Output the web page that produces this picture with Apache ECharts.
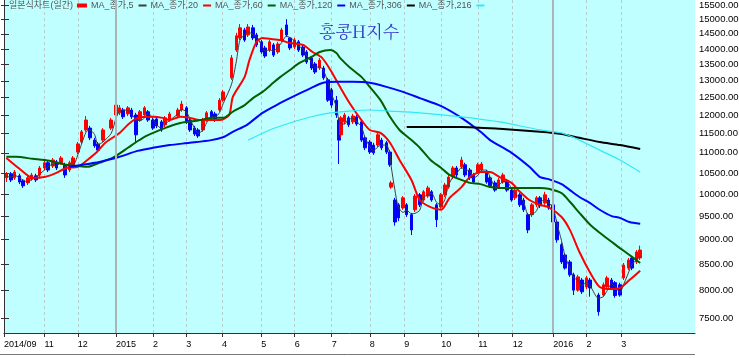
<!DOCTYPE html>
<html><head><meta charset="utf-8">
<script src="https://cdn.jsdelivr.net/npm/echarts@6/dist/echarts.min.js"></script>
<style>html,body{margin:0;padding:0;background:#fff}#c{width:739px;height:358px}</style>
</head><body><div id="c"></div>
<script>
// ---------- DATA ----------
const candleDates = [
"2014-10-02","2014-10-06","2014-10-09","2014-10-13","2014-10-16","2014-10-20","2014-10-23","2014-10-27","2014-10-30",
"2014-11-03","2014-11-06","2014-11-10","2014-11-13","2014-11-17","2014-11-20","2014-11-24","2014-11-27",
"2014-12-01","2014-12-04","2014-12-08","2014-12-11","2014-12-15","2014-12-18","2014-12-22","2014-12-29",
"2015-01-02","2015-01-05","2015-01-08","2015-01-12","2015-01-15","2015-01-19","2015-01-22","2015-01-26","2015-01-29",
"2015-02-02","2015-02-05","2015-02-09","2015-02-12","2015-02-16","2015-02-23","2015-02-26",
"2015-03-02","2015-03-05","2015-03-09","2015-03-12","2015-03-16","2015-03-19","2015-03-23","2015-03-26","2015-03-30",
"2015-04-02","2015-04-09","2015-04-13","2015-04-16","2015-04-20","2015-04-23","2015-04-27","2015-04-30",
"2015-05-04","2015-05-07","2015-05-11","2015-05-14","2015-05-18","2015-05-21","2015-05-25","2015-05-28",
"2015-06-01","2015-06-04","2015-06-08","2015-06-11","2015-06-15","2015-06-18","2015-06-22","2015-06-25","2015-06-29",
"2015-07-02","2015-07-06","2015-07-08","2015-07-10","2015-07-13","2015-07-16","2015-07-20","2015-07-23","2015-07-27","2015-07-30",
"2015-08-03","2015-08-06","2015-08-10","2015-08-13","2015-08-17","2015-08-20","2015-08-21","2015-08-24","2015-08-27","2015-08-31",
"2015-09-03","2015-09-07","2015-09-10","2015-09-14","2015-09-17","2015-09-21","2015-09-24","2015-09-28",
"2015-10-02","2015-10-05","2015-10-08","2015-10-12","2015-10-15","2015-10-19","2015-10-22","2015-10-26","2015-10-29",
"2015-11-02","2015-11-05","2015-11-09","2015-11-12","2015-11-16","2015-11-19","2015-11-23","2015-11-26","2015-11-30",
"2015-12-03","2015-12-07","2015-12-10","2015-12-14","2015-12-17","2015-12-21","2015-12-24","2015-12-28","2015-12-31",
"2016-01-04","2016-01-07","2016-01-11","2016-01-14","2016-01-18","2016-01-21","2016-01-25","2016-01-28",
"2016-02-01","2016-02-04","2016-02-11","2016-02-15","2016-02-18","2016-02-22","2016-02-25","2016-02-29",
"2016-03-03","2016-03-07","2016-03-10","2016-03-14","2016-03-17"];

const opens = [
10380,10480,10380,10430,10310,10260,10350,10430,10450,
10620,10750,10670,10770,10750,10700,10570,10700,
11020,11280,11600,11650,11330,11230,11330,11650,
12010,12070,12150,12040,12150,12010,11870,12010,12100,
11870,11900,11820,11740,11870,11980,12150,
12210,11870,11650,11600,11600,11870,12100,12040,12150,
12430,13090,13960,14360,14630,14460,14700,14460,
14230,14030,13960,14130,13900,14290,14800,14360,
14060,14230,14060,13900,13710,13520,13390,13390,13030,
12730,12430,11870,11470,11820,11930,11820,11960,11820,11390,
11280,11200,11200,11330,11260,11020,10160,9860,9750,9680,
9750,9530,9640,9980,9860,9950,10050,9750,
9700,9980,10160,10400,10620,10650,10700,10570,10450,
10520,10570,10520,10380,10260,10160,10280,10280,10090,
9910,9980,9860,9530,9530,9750,9910,9790,9860,
9750,9370,8890,8680,8540,8290,8000,8190,
8060,8190,7910,7910,8060,8190,8140,8100,
8230,8420,8620,8540,8620];

const closes = [
10480,10330,10520,10280,10190,10380,10450,10330,10620,
10750,10570,10820,10620,10870,10450,10750,10870,
11230,11550,11870,11390,11180,11070,11600,11870,
12290,12210,11960,12210,11960,11470,12100,12210,11870,
11650,11710,11600,11930,12040,12150,12320,
11820,11600,11490,11440,11870,12070,11930,11870,12430,
12670,13710,14430,14700,14290,14730,14360,14130,
13900,13770,14230,13800,14160,14630,14460,14030,
14290,13960,13800,13580,13390,13270,13640,13090,12430,
12290,12010,11330,11930,12010,11740,11980,11760,11330,11130,
11020,11000,11470,11130,11020,10700,10260,9370,9460,9910,
9530,9200,9950,9750,10050,10140,9860,9420,
9980,10210,10400,10620,10450,10820,10450,10380,10280,
10700,10720,10280,10190,10090,10330,10450,10090,9860,
10090,9750,9640,9200,9750,9910,9730,9980,9680,
9370,8990,8540,8420,8290,8000,8250,7970,
8230,8040,7610,8100,8230,8040,7900,7910,
8480,8580,8420,8740,8780];

const lows = [
10280,10280,10330,10230,10140,10210,10310,10280,10400,
10570,10520,10620,10570,10700,10380,10520,10650,
10970,11230,11550,11330,11130,11020,11280,11600,
11960,12010,11900,11980,11900,11280,11820,11960,11820,
11600,11650,11550,11680,11820,11930,12100,
11760,11550,11440,11390,11550,11820,11870,11820,12100,
12380,13030,13900,14290,14230,14390,14290,14060,
13840,13710,13900,13740,13840,14230,14390,13960,
14000,13900,13740,13520,13330,13210,13330,13030,12380,
12210,11930,10720,11390,11760,11680,11760,11710,11280,11070,
10970,10950,11150,11070,10970,10650,10120,9290,9390,9640,
9480,9090,9590,9700,9820,9910,9820,9260,
9660,9930,10120,10350,10400,10600,10400,10330,10240,
10480,10520,10240,10140,10050,10120,10240,10050,9820,
9860,9700,9590,9130,9480,9700,9680,9750,9640,
9330,8930,8500,8390,8250,7910,7970,7930,
8020,7880,7540,7880,8020,8000,7860,7880,
8190,8380,8380,8500,8580];

const highs = [
10520,10520,10570,10480,10350,10430,10500,10480,10670,
10800,10800,10870,10820,10920,10750,10800,10920,
11280,11600,11980,11710,11390,11280,11650,11930,
12380,12290,12210,12260,12210,12070,12150,12260,12150,
11930,11960,11870,11980,12100,12210,12410,
12260,11930,11710,11650,11930,12120,12150,12100,12490,
12730,13800,14530,14830,14700,14830,14800,14530,
14290,14100,14290,14190,14230,14700,15000,14390,
14360,14290,14130,13960,13770,13580,13710,13460,13090,
12790,12550,11930,11980,12070,11980,12040,12010,11870,11440,
11330,11260,11520,11390,11310,11070,10310,9910,9790,9950,
9790,9570,10000,10020,10090,10190,10090,9790,
10020,10260,10450,10670,10670,10900,10750,10620,10500,
10750,10770,10570,10430,10310,10380,10500,10330,10140,
10140,10020,9910,9570,9790,9950,9950,10050,9910,
9790,9420,8930,8720,8580,8330,8290,8230,
8270,8230,7950,8140,8270,8230,8170,8140,
8520,8620,8660,8780,8870];

const ma5 = [
10420,10400,10440,10380,10330,10280,10340,10390,10470,
10570,10650,10710,10670,10770,10650,10690,10690,
10950,11220,11550,11600,11480,11210,11280,11510,
11920,12120,12150,12130,12040,11880,11850,11930,12060,
11910,11740,11650,11750,11860,12040,12170,
12100,11910,11640,11510,11600,11790,11960,11950,12080,
12330,12900,13600,14280,14470,14570,14460,14410,
14130,13930,13970,13930,14060,14200,14420,14370,
14260,14090,14010,13780,13590,13410,13430,13330,12950,
12600,12240,11880,11760,11760,11890,11910,11830,11690,11400,
11160,11050,11160,11200,11200,10950,10660,10110,9700,9580,
9630,9550,9560,9630,9920,9980,10010,9810,
9750,9870,10200,10410,10490,10630,10570,10550,10370,
10450,10570,10570,10400,10190,10200,10290,10290,10130,
10010,9900,9830,9530,9530,9620,9800,9870,9800,
9680,9350,8970,8650,8420,8240,8180,8080,
8150,8080,7850,7880,7980,8120,8060,7960,
8100,8320,8490,8580,8650];

const ma20Dates = ["2014-10-02","2014-10-13","2014-10-24","2014-11-03","2014-11-13","2014-11-21","2014-12-01","2014-12-09","2014-12-17","2014-12-24","2015-01-05","2015-01-12","2015-01-20","2015-02-02","2015-02-10","2015-02-16","2015-02-25","2015-03-05","2015-03-13","2015-03-23","2015-03-30","2015-04-07","2015-04-10","2015-04-20","2015-04-24","2015-04-30","2015-05-05","2015-05-11","2015-05-20","2015-05-28","2015-06-08","2015-06-16","2015-06-24","2015-07-01","2015-07-09","2015-07-17","2015-07-27","2015-08-03","2015-08-12","2015-08-20","2015-08-28","2015-09-07","2015-09-14","2015-09-23","2015-10-02","2015-10-09","2015-10-19","2015-10-26","2015-11-04","2015-11-12","2015-11-20","2015-11-30","2015-12-07","2015-12-15","2015-12-24","2015-12-31","2016-01-11","2016-01-18","2016-01-26","2016-02-04","2016-02-12","2016-02-22","2016-02-29","2016-03-08","2016-03-17"];
const ma20 = [10870,10600,10380,10400,10500,10620,10650,10820,11020,11260,11520,11740,11930,11960,11930,11870,11960,11930,11870,11870,11870,12010,12520,13120,13640,14230,14360,14330,14290,14190,14130,13900,13710,13330,12820,12350,11870,11600,11520,11260,10820,10330,9860,9700,9640,9910,10160,10400,10520,10520,10400,10260,10050,9860,9750,9700,9480,9200,8740,8330,8060,8020,8040,8190,8370];

const ma60Dates = ["2014-10-02","2014-10-10","2014-10-24","2014-11-07","2014-11-21","2014-12-01","2014-12-09","2014-12-19","2014-12-30","2015-01-12","2015-01-20","2015-01-28","2015-02-12","2015-02-25","2015-03-11","2015-03-24","2015-04-02","2015-04-10","2015-04-20","2015-04-27","2015-05-05","2015-05-14","2015-05-20","2015-05-28","2015-06-05","2015-06-15","2015-06-22","2015-07-01","2015-07-06","2015-07-09","2015-07-17","2015-07-27","2015-08-03","2015-08-12","2015-08-20","2015-08-28","2015-09-07","2015-09-14","2015-09-23","2015-10-02","2015-10-09","2015-10-19","2015-10-26","2015-11-04","2015-11-12","2015-11-20","2015-11-30","2015-12-07","2015-12-15","2015-12-24","2015-12-31","2016-01-11","2016-01-18","2016-01-26","2016-02-04","2016-02-12","2016-02-22","2016-02-29","2016-03-08","2016-03-17"];
const ma60 = [10900,10900,10850,10800,10700,10670,10650,10750,10870,11130,11300,11450,11650,11790,11850,11930,11930,12100,12290,12490,12670,12940,13120,13330,13550,13740,13900,13960,13870,13710,13420,13120,12820,12430,11960,11600,11330,11130,10820,10620,10450,10330,10260,10230,10160,10140,10140,10140,10140,10140,10120,10020,9820,9570,9310,9140,8950,8820,8680,8520];

const ma120Dates = ["2014-11-24","2014-12-19","2015-01-05","2015-01-20","2015-02-02","2015-02-16","2015-03-05","2015-03-23","2015-04-02","2015-04-10","2015-04-22","2015-05-05","2015-05-20","2015-05-28","2015-06-15","2015-06-25","2015-07-07","2015-07-20","2015-08-03","2015-08-17","2015-08-31","2015-09-14","2015-10-02","2015-10-19","2015-11-04","2015-11-12","2015-11-30","2015-12-15","2015-12-24","2015-12-31","2016-01-11","2016-01-18","2016-01-26","2016-02-04","2016-02-12","2016-02-22","2016-02-29","2016-03-08","2016-03-17"];
const ma120 = [10650,10770,10900,11050,11130,11200,11260,11330,11410,11550,11740,12070,12350,12490,12790,12940,12970,12970,12940,12820,12670,12490,12260,11930,11550,11330,11000,10650,10400,10350,10230,10090,9930,9790,9640,9500,9460,9370,9330];

const ma306Dates = ["2015-09-03","2015-09-14","2015-10-19","2015-11-20","2015-12-24","2016-01-11","2016-01-26","2016-02-12","2016-02-29","2016-03-17"];
const ma306 = [11680,11680,11680,11630,11550,11490,11390,11280,11200,11100];

const ma216Dates = ["2015-04-23","2015-05-11","2015-05-28","2015-06-15","2015-07-01","2015-07-17","2015-08-03","2015-08-20","2015-09-14","2015-10-19","2015-11-20","2015-12-24","2016-01-11","2016-01-26","2016-02-12","2016-02-29","2016-03-17"];
const ma216 = [11330,11600,11790,11960,12070,12120,12150,12120,12070,11960,11820,11600,11520,11330,11070,10820,10520];

const yTicks = [7500,8000,8500,9000,9500,10000,10500,11000,11500,12000,12500,13000,13500,14000,14500,15000,15500];
const xTickDates = ["2014-09-30","2014-11-03","2014-12-01","2015-01-02","2015-02-02","2015-03-02","2015-04-01","2015-05-04","2015-06-01","2015-07-02","2015-08-03","2015-09-01","2015-10-02","2015-11-02","2015-12-01","2016-01-04","2016-02-01","2016-03-01"];
const xTickLabels = ["2014/09","11","12","2015","2","3","4","5","6","7","8","9","10","11","12","2016","2","3"];
const yearDates = ["2015-01-02","2016-01-04"];
const axisStart = "2014-09-30", axisEnd = "2016-05-02";
const yMin = 7243, yMax = 15681;

const seriesNames = ["일본식차트(일간)","MA_종가,5","MA_종가,20","MA_종가,60","MA_종가,120","MA_종가,306","MA_종가,216"];

// ---------- BUILD ----------
[opens,closes,lows,highs,ma5].forEach(a=>{ if(a.length!==candleDates.length) throw new Error('len '+a.length); });
function dayOf(s){const p=s.split('-').map(Number);const b=axisStart.split('-').map(Number);
  return (Date.UTC(p[0],p[1]-1,p[2])-Date.UTC(b[0],b[1]-1,b[2]))/864e5;}
const L = Math.log;
const xTickVals = xTickDates.map(dayOf);
const yTickVals = yTicks.map(L);

function lineSeries(name, dates, vals, color, width){
  return {name, type:'line', data: dates.map((d,i)=>[dayOf(d), L(vals[i])]),
    showSymbol:false, smooth:0.25, lineStyle:{color, width}, itemStyle:{color}, z:3, silent:true};
}
const font = '"Liberation Sans", Arial, "Noto Sans CJK KR", sans-serif';

const chart = echarts.init(document.getElementById('c'), null, {renderer:'canvas'});
chart.setOption({
  animation:false,
  backgroundColor:'#ffffff',
  title:{text:'홍콩H지수', left:314, top:18,
    textStyle:{color:'#3434c8', fontSize:17, fontWeight:'normal', fontFamily:'"Noto Serif CJK KR","Noto Sans CJK KR",serif'}},
  legend:{data:seriesNames, left:9, top:1, align:'right', icon:'rect', itemWidth:8, itemHeight:2, itemGap:4, padding:0,
    selectedMode:false, textStyle:{fontSize:9, color:'#555', fontFamily:font}},
  grid:{left:4, right:44, top:0, bottom:25, show:true, backgroundColor:'#c0ffff', borderWidth:0, outerBoundsMode:'none', containLabel:false},
  xAxis:{type:'value', min:0, max:dayOf(axisEnd),
    axisLine:{show:true, lineStyle:{color:'#333', width:1}},
    axisTick:{show:true, customValues:xTickVals, length:4, lineStyle:{color:'#333'}},
    axisLabel:{customValues:xTickVals, align:'left', fontSize:9, color:'#000', margin:7, fontFamily:font, showMinLabel:true,
      formatter:v=>{const i=xTickVals.findIndex(t=>Math.abs(t-v)<1e-6);return i>=0?xTickLabels[i]:'';}},
    splitLine:{show:true, lineStyle:{type:[3,3], color:'#b4cccc', width:1}}},
  yAxis:[{type:'value', position:'right', min:L(yMin), max:L(yMax),
    axisLine:{show:true, lineStyle:{color:'#333'}},
    axisTick:{show:true, customValues:yTickVals, length:5, lineStyle:{color:'#333'}},
    axisLabel:{customValues:yTickVals, fontSize:9.5, color:'#000', margin:4, fontFamily:font,
      formatter:v=>{const i=yTickVals.findIndex(t=>Math.abs(t-v)<1e-6);return i>=0?yTicks[i].toFixed(2):'';}},
    splitLine:{show:false}},
   {type:'value', position:'left', min:L(yMin), max:L(yMax),
    axisLine:{show:true, lineStyle:{color:'#333'}},
    axisTick:{show:true, customValues:yTickVals, length:3, lineStyle:{color:'#333'}},
    axisLabel:{show:false}, splitLine:{show:false}}],
  graphic:[{type:'line', shape:{x1:0,y1:354.5,x2:695,y2:354.5}, style:{stroke:'#777', lineWidth:1}, silent:true}],
  series:[
    {name:seriesNames[0], type:'candlestick', barWidth:3,
     encode:{x:0, y:[1,2,3,4]},
     data: candleDates.map((d,i)=>[dayOf(d), L(opens[i]), L(closes[i]), L(lows[i]), L(highs[i])]),
     itemStyle:{color:'#ff0000', color0:'#0000ff', borderColor:'#ff0000', borderColor0:'#0000ff', borderWidth:1},
     markLine:{silent:true, symbol:'none', label:{show:false},
       lineStyle:{color:'#aab6b6', width:2, type:'solid'},
       data: yearDates.map(d=>({xAxis:dayOf(d)}))}},
    lineSeries(seriesNames[1], candleDates, ma5, '#3c3c3c', 1),
    lineSeries(seriesNames[2], ma20Dates, ma20, '#ff0000', 2),
    lineSeries(seriesNames[3], ma60Dates, ma60, '#006000', 2),
    lineSeries(seriesNames[4], ma120Dates, ma120, '#0000ff', 2),
    lineSeries(seriesNames[5], ma306Dates, ma306, '#000000', 2),
    lineSeries(seriesNames[6], ma216Dates, ma216, '#30e8f8', 1.2)
  ]
});
</script></body></html>
